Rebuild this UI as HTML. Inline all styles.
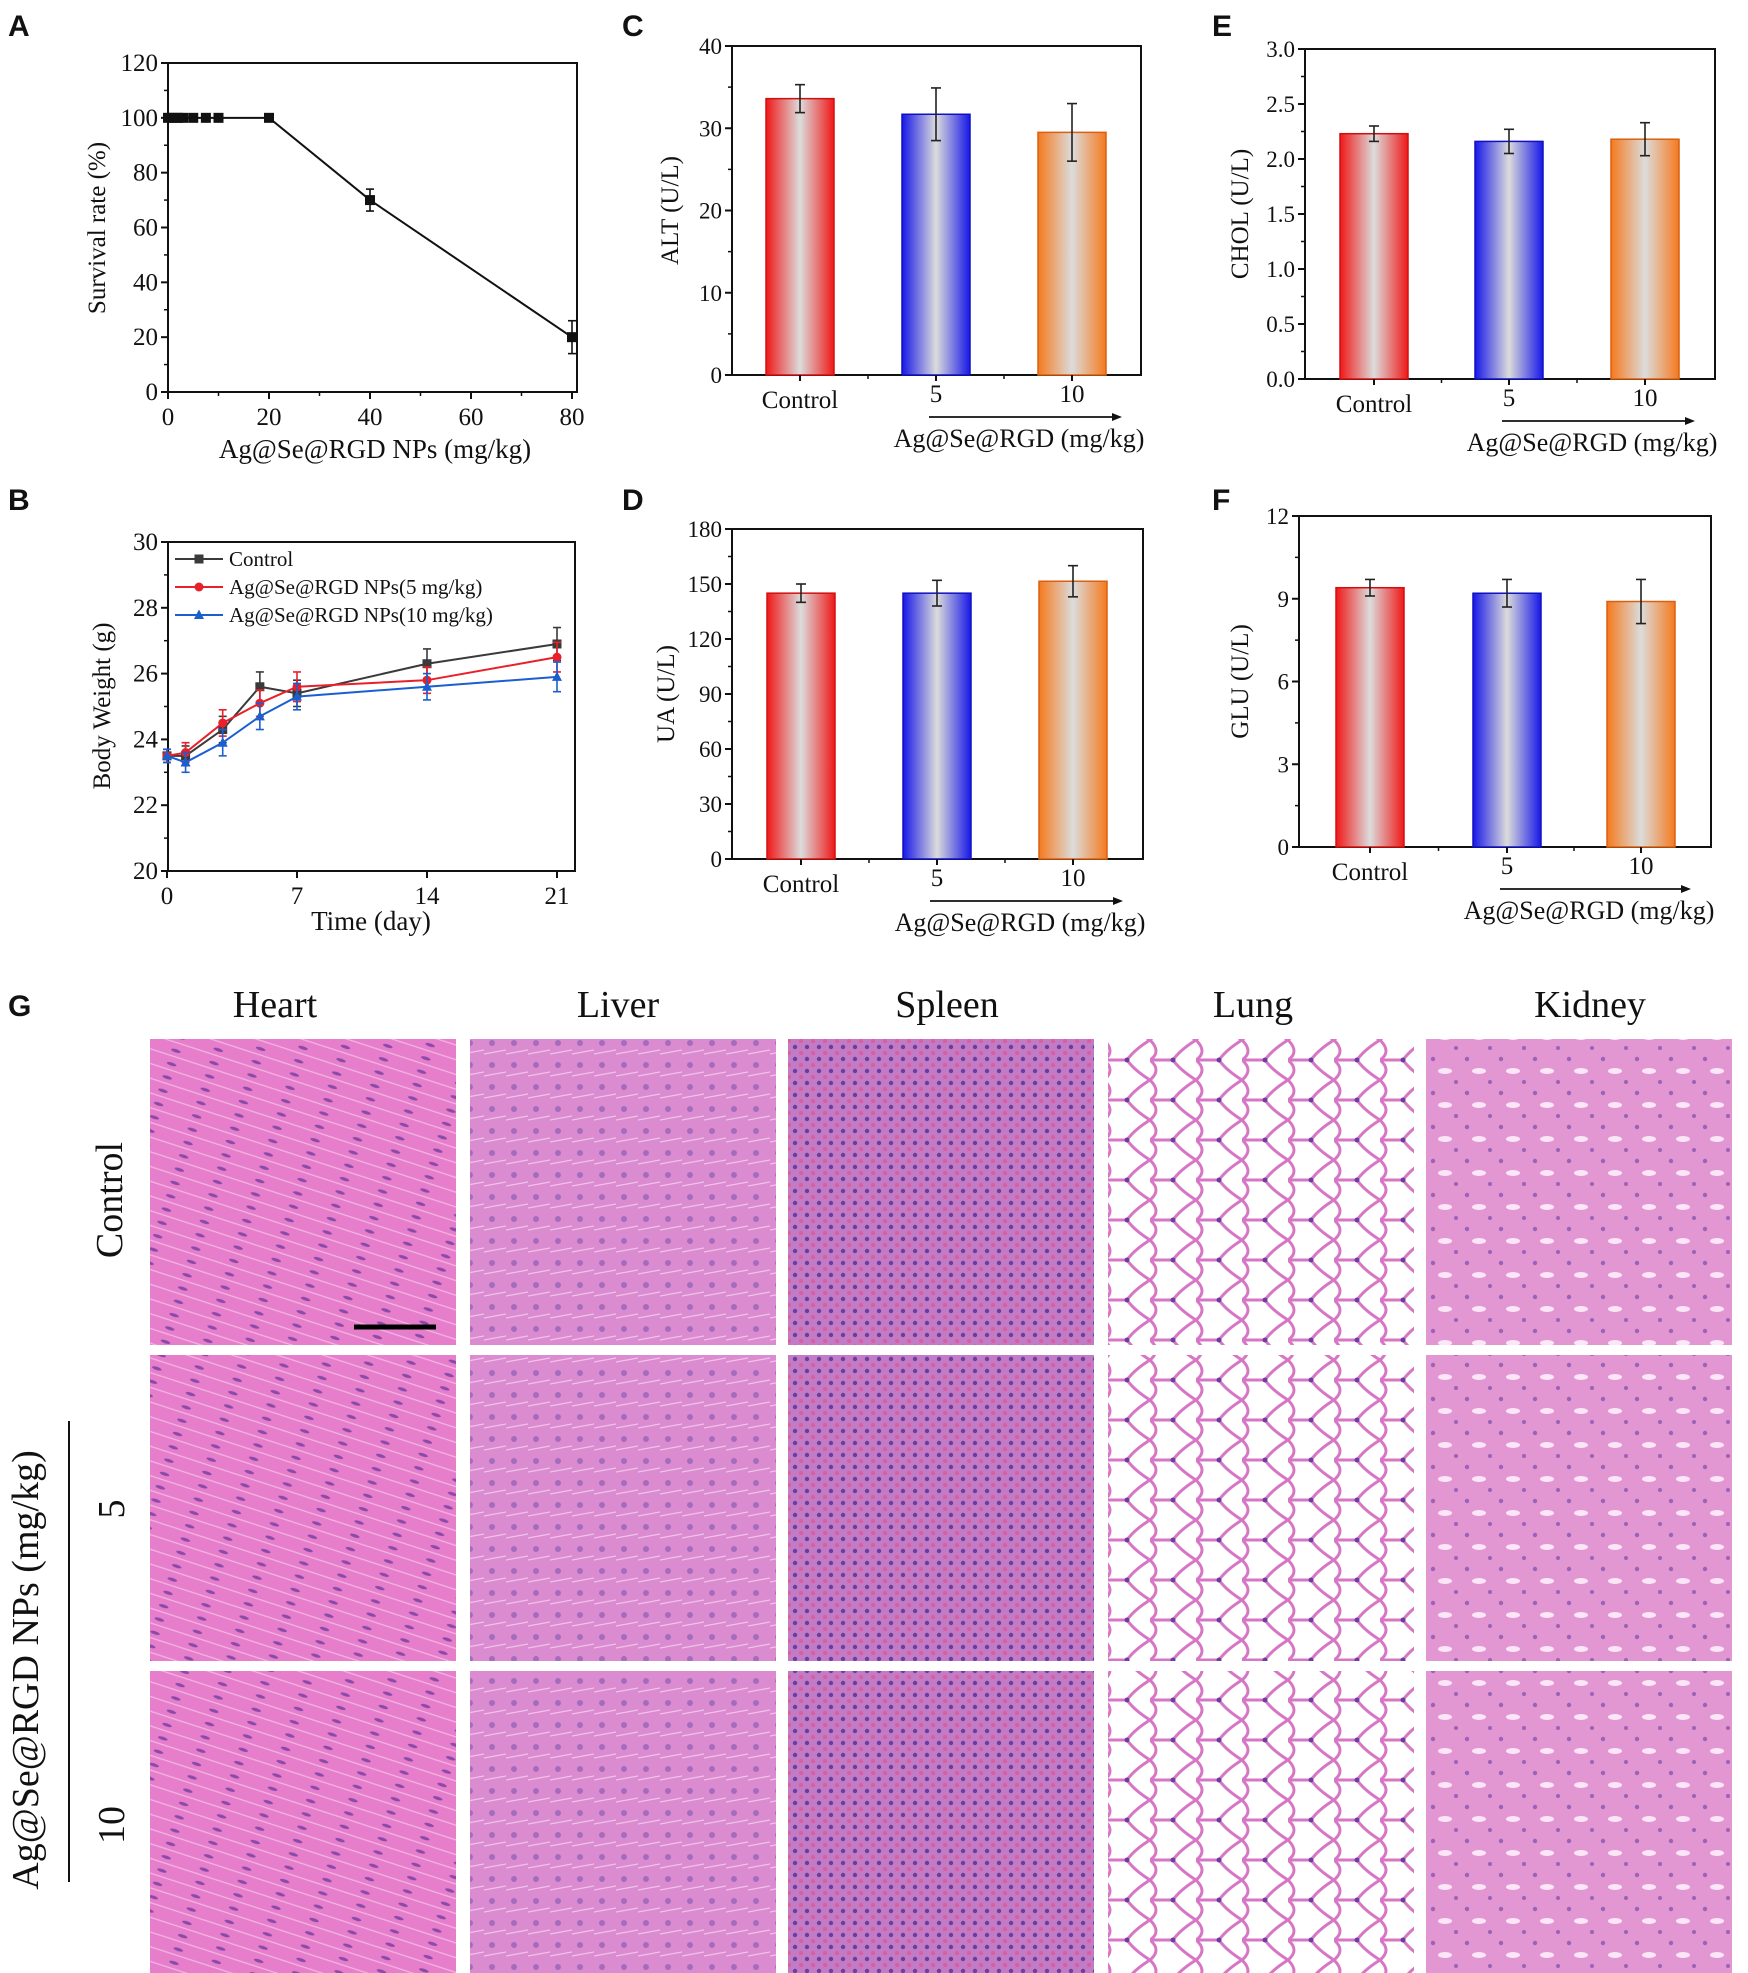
<!DOCTYPE html>
<html><head><meta charset="utf-8">
<style>
html,body{margin:0;padding:0;background:#fff}
svg{display:block}
text{font-family:"Liberation Serif",serif;fill:#111}
.pl{font-family:"Liberation Sans",sans-serif;font-weight:bold;font-size:30px}
</style></head>
<body>
<svg id="fig" width="1748" height="1973" viewBox="0 0 1748 1973" xmlns="http://www.w3.org/2000/svg">
<defs>
<linearGradient id="gRed" x1="0" x2="1"><stop offset="0" stop-color="#f01818"/><stop offset="0.5" stop-color="#dcdcdc"/><stop offset="1" stop-color="#f01818"/></linearGradient>
<linearGradient id="gBlue" x1="0" x2="1"><stop offset="0" stop-color="#1818e8"/><stop offset="0.5" stop-color="#dcdcdc"/><stop offset="1" stop-color="#1818e8"/></linearGradient>
<linearGradient id="gOrange" x1="0" x2="1"><stop offset="0" stop-color="#f57a1e"/><stop offset="0.5" stop-color="#dcdcdc"/><stop offset="1" stop-color="#f57a1e"/></linearGradient>
<pattern id="pHeart" width="40" height="14" patternUnits="userSpaceOnUse" patternTransform="rotate(18)"><rect width="40" height="14" fill="#e67ecb"/><ellipse cx="12" cy="7" rx="5" ry="1.6" fill="#8a4aa8"/><line x1="0" y1="13" x2="40" y2="13" stroke="#f3b6e4" stroke-width="1.2"/></pattern>
<pattern id="pLiver" width="22" height="22" patternUnits="userSpaceOnUse"><rect width="22" height="22" fill="#db8cd0"/><circle cx="8" cy="9" r="3" fill="#a56bbd"/><path d="M0 20 L22 16" stroke="#f0c2ea" stroke-width="1.2"/></pattern>
<pattern id="pSpleen" width="12" height="12" patternUnits="userSpaceOnUse"><rect width="12" height="12" fill="#c17cc5"/><circle cx="3" cy="3" r="2.2" fill="#6e3c9c"/><circle cx="9" cy="9" r="2" fill="#e05a9c"/></pattern>
<pattern id="pLung" width="46" height="40" patternUnits="userSpaceOnUse"><rect width="46" height="40" fill="#fff"/><path d="M0 0 Q12 12 0 20 Q12 30 0 40 M46 0 Q30 10 23 20 Q30 30 46 40 M0 20 L23 20" fill="none" stroke="#d676c4" stroke-width="3"/><circle cx="23" cy="20" r="2.5" fill="#6a3ea0"/></pattern>
<pattern id="pKidney" width="34" height="34" patternUnits="userSpaceOnUse"><rect width="34" height="34" fill="#e296d2"/><ellipse cx="17" cy="17" rx="7" ry="3" fill="#fbe6f7"/><circle cx="5" cy="5" r="2.2" fill="#9a62b8"/><circle cx="28" cy="28" r="2" fill="#9a62b8"/></pattern>
</defs>

<g>
<text class="pl" x="8" y="36">A</text>
<text class="pl" x="8" y="510">B</text>
<text class="pl" x="622" y="36">C</text>
<text class="pl" x="622" y="510">D</text>
<text class="pl" x="1212" y="36">E</text>
<text class="pl" x="1212" y="510">F</text>
<text class="pl" x="8" y="1016">G</text>
</g>
<g id="charts"></g>

<g font-size="36">
<text x="275" y="1017" text-anchor="middle" font-size="38">Heart</text>
<text x="618" y="1017" text-anchor="middle" font-size="38">Liver</text>
<text x="947" y="1017" text-anchor="middle" font-size="38">Spleen</text>
<text x="1253" y="1017" text-anchor="middle" font-size="38">Lung</text>
<text x="1590" y="1017" text-anchor="middle" font-size="38">Kidney</text>
<text transform="translate(122,1200) rotate(-90)" text-anchor="middle" font-size="38">Control</text>
<text transform="translate(124,1509) rotate(-90)" text-anchor="middle" font-size="38">5</text>
<text transform="translate(124,1825) rotate(-90)" text-anchor="middle" font-size="38">10</text>
<text transform="translate(38,1670) rotate(-90)" text-anchor="middle" font-size="38">Ag@Se@RGD NPs (mg/kg)</text>
<line x1="69" y1="1421" x2="69" y2="1882" stroke="#111" stroke-width="2"/>
<g id="tiles"></g>
<line x1="354" y1="1327" x2="436" y2="1327" stroke="#000" stroke-width="5"/>
</g>
</svg>

<script>
const NS='http://www.w3.org/2000/svg';
const root=document.getElementById('charts');
function mk(tag,attrs,parent,txt){const e=document.createElementNS(NS,tag);for(const k in attrs)e.setAttribute(k,attrs[k]);if(txt!==undefined)e.textContent=txt;(parent||root).appendChild(e);return e;}

// ---- Panel A data ----
const aDose=[0,1,2,3,5,7.5,10,20,40,80];
const aSurv=[100,100,100,100,100,100,100,100,70,20];
const aErr=[0,0,0,0,0,0,0,1,4,6];
const aXTicks=[0,20,40,60,80];
const aYTicks=[0,20,40,60,80,100,120];
// ---- Panel B data ----
const bDays=[0,1,3,5,7,14,21];
const bControl=[23.5,23.5,24.3,25.6,25.4,26.3,26.9];
const bDose5=[23.5,23.6,24.5,25.1,25.6,25.8,26.5];
const bDose10=[23.5,23.3,23.9,24.7,25.3,25.6,25.9];
const bErrControl=[0.2,0.3,0.4,0.45,0.4,0.45,0.5];
const bErrDose5=[0.2,0.3,0.4,0.4,0.45,0.4,0.45];
const bErrDose10=[0.2,0.3,0.4,0.4,0.4,0.4,0.45];
const bXTicks=[0,7,14,21];
const bYTicks=[20,22,24,26,28,30];
// ---- Bar panels ----
const barCats=['Control','5','10'];
const altVals=[33.6,31.7,29.5], altErr=[1.7,3.2,3.5], altTicks=[0,10,20,30,40];
const uaVals=[145,145,151.5], uaErr=[5,7,8.5], uaTicks=[0,30,60,90,120,150,180];
const cholVals=[2.23,2.16,2.18], cholErr=[0.07,0.11,0.15], cholTicks=[0,0.5,1,1.5,2,2.5,3];
const gluVals=[9.4,9.2,8.9], gluErr=[0.3,0.5,0.8], gluTicks=[0,3,6,9,12];

function frame(g,L,R,T,B){
  const r=mk('rect',{x:L,y:T,width:R-L,height:B-T,fill:'none',stroke:'#111','stroke-width':2},g);
  
  
}
function yAxis(g,ticks,sy,L,fmt,fs){
  ticks.forEach((t,i)=>{
    mk('line',{x1:L-7,x2:L,y1:sy(t),y2:sy(t),stroke:'#111','stroke-width':2},g);
    if(i<ticks.length-1)mk('line',{x1:L-4,x2:L,y1:(sy(t)+sy(ticks[i+1]))/2,y2:(sy(t)+sy(ticks[i+1]))/2,stroke:'#111','stroke-width':1.5},g);
    const tx=mk('text',{x:L-10,y:sy(t)+8,'text-anchor':'end','font-size':fs},g,fmt(t));
    
    
  });
}
function err(g,x,y1,y2,w,c){
  mk('line',{x1:x,x2:x,y1:y1,y2:y2,stroke:c,'stroke-width':1.6},g);
  mk('line',{x1:x-w,x2:x+w,y1:y1,y2:y1,stroke:c,'stroke-width':1.6},g);
  mk('line',{x1:x-w,x2:x+w,y1:y2,y2:y2,stroke:c,'stroke-width':1.6},g);
}

// Panel A
(function(){
  const g=mk('g',{});
  
  
  const L=168,R=577,T=63,B=392;
  const sx=v=>168+v/80*(572-168), sy=v=>B-v/120*(B-T);
  frame(g,L,R,T,B);
  yAxis(g,aYTicks,sy,L,v=>v,25);
  aXTicks.forEach(t=>{mk('line',{x1:sx(t),x2:sx(t),y1:B,y2:B+7,stroke:'#111','stroke-width':2},g);
    const tx=mk('text',{x:sx(t),y:B+33,'text-anchor':'middle','font-size':25},g,t);
    });
  [10,30,50,70].forEach(t=>mk('line',{x1:sx(t),x2:sx(t),y1:B,y2:B+4,stroke:'#111','stroke-width':1.5},g));
  const ln=mk('polyline',{points:aDose.map((d,i)=>sx(d)+','+sy(aSurv[i])).join(' '),fill:'none',stroke:'#111','stroke-width':2},g);
  
  aDose.forEach((d,i)=>{
    if(aErr[i])err(g,sx(d),sy(aSurv[i]+aErr[i]),sy(aSurv[i]-aErr[i]),4,'#111');
    const p=mk('rect',{x:sx(d)-5,y:sy(aSurv[i])-5,width:10,height:10,fill:'#111'},g);
    
  });
  const yt=mk('text',{transform:'translate(105,228) rotate(-90)','text-anchor':'middle','font-size':25},g,'Survival rate (%)');
  
  const xt=mk('text',{x:375,y:458,'text-anchor':'middle','font-size':27},g,'Ag@Se@RGD NPs (mg/kg)');
  
})();

// Panel B
(function(){
  const g=mk('g',{});
  
  
  const L=168,R=575,T=542,B=871;
  const sx=v=>167+v/21*(557-167), sy=v=>B-(v-20)/10*(B-T);
  frame(g,L,R,T,B);
  yAxis(g,bYTicks,sy,L,v=>v,25);
  bXTicks.forEach(t=>{mk('line',{x1:sx(t),x2:sx(t),y1:B,y2:B+7,stroke:'#111','stroke-width':2},g);
    const tx=mk('text',{x:sx(t),y:B+33,'text-anchor':'middle','font-size':25},g,t);
    });
  const series=[[bControl,bErrControl,'#3a3a3a','sq','Control'],[bDose5,bErrDose5,'#e8202a','ci','Ag@Se@RGD NPs(5 mg/kg)'],[bDose10,bErrDose10,'#1a5fd0','tr','Ag@Se@RGD NPs(10 mg/kg)']];
  function marker(x,y,s,c){
    let m;
    if(s==='sq')m=mk('rect',{x:x-4.5,y:y-4.5,width:9,height:9,fill:c},g);
    else if(s==='ci')m=mk('circle',{cx:x,cy:y,r:4.5,fill:c},g);
    else m=mk('polygon',{points:`${x},${y-5.5} ${x-5},${y+4} ${x+5},${y+4}`,fill:c},g);
    return m;
  }
  series.forEach((s,k)=>{
    const [vals,errs,c,shape,name]=s;
    const pl=mk('polyline',{points:bDays.map((d,i)=>sx(d)+','+sy(vals[i])).join(' '),fill:'none',stroke:c,'stroke-width':2},g);
    
    bDays.forEach((d,i)=>{err(g,sx(d),sy(vals[i]+errs[i]),sy(vals[i]-errs[i]),4,c);
      const m=marker(sx(d),sy(vals[i]),shape,c);
      });
    const ly=559+k*28;
    mk('line',{x1:175,x2:223,y1:ly,y2:ly,stroke:c,'stroke-width':2},g);
    marker(199,ly,shape,c);
    const lt=mk('text',{x:229,y:ly+7,'font-size':21},g,name);
    
  });
  const yt=mk('text',{transform:'translate(110,706) rotate(-90)','text-anchor':'middle','font-size':25},g,'Body Weight (g)');
  
  const xt=mk('text',{x:371,y:930,'text-anchor':'middle','font-size':27},g,'Time (day)');
  
})();

// Bar panels
function barChart(cfg){
  const g=mk('g',{});
  
  
  const {L,R,T,B,vals,errs,ticks,centers,title,fmt}=cfg;
  const max=ticks[ticks.length-1];
  const sy=v=>B-v/max*(B-T);
  frame(g,L,R,T,B);
  yAxis(g,ticks,sy,L,fmt,23);
  const grads=['url(#gRed)','url(#gBlue)','url(#gOrange)'], edges=['#d01010','#1010c0','#d86010'];
  vals.forEach((v,i)=>{
    const cx=centers[i];
    const b=mk('rect',{x:cx-34,y:sy(v),width:68,height:B-sy(v),fill:grads[i],stroke:edges[i],'stroke-width':1.5},g);
    
    
    err(g,cx,sy(v+errs[i]),sy(v-errs[i]),5,'#222');
    mk('line',{x1:cx,x2:cx,y1:B,y2:B+6,stroke:'#111','stroke-width':2},g);
    const lt=mk('text',{x:cx,y:i===0?B+33:B+27,'text-anchor':'middle','font-size':25},g,barCats[i]);
    
  });
  [(centers[0]+centers[1])/2,(centers[1]+centers[2])/2].forEach(x=>mk('line',{x1:x,x2:x,y1:B,y2:B+4,stroke:'#111','stroke-width':1.5},g));
  const ay=B+42;
  const ar=mk('line',{x1:centers[1]-7,x2:centers[2]+44,y1:ay,y2:ay,stroke:'#111','stroke-width':1.8},g);
  
  mk('polygon',{points:`${centers[2]+50},${ay} ${centers[2]+40},${ay-4} ${centers[2]+40},${ay+4}`,fill:'#111'},g);
  const dt=mk('text',{x:(centers[1]+centers[2])/2+15,y:ay+30,'text-anchor':'middle','font-size':26},g,'Ag@Se@RGD (mg/kg)');
  
  const yt=mk('text',{transform:`translate(${cfg.tx},${(T+B)/2}) rotate(-90)`,'text-anchor':'middle','font-size':25},g,title);
  
}
barChart({name:'alt-chart',L:732,R:1141,T:46,B:375,vals:altVals,errs:altErr,ticks:altTicks,centers:[800,936,1072],title:'ALT (U/L)',tx:678,fmt:v=>v});
barChart({name:'ua-chart',L:732,R:1143,T:529,B:859,vals:uaVals,errs:uaErr,ticks:uaTicks,centers:[801,937,1073],title:'UA (U/L)',tx:674,fmt:v=>v});
barChart({name:'chol-chart',L:1305,R:1715,T:49,B:379,vals:cholVals,errs:cholErr,ticks:cholTicks,centers:[1374,1509,1645],title:'CHOL (U/L)',tx:1248,fmt:v=>v.toFixed(1)});
barChart({name:'glu-chart',L:1299,R:1711,T:516,B:847,vals:gluVals,errs:gluErr,ticks:gluTicks,centers:[1370,1507,1641],title:'GLU (U/L)',tx:1248,fmt:v=>v});

// histology tiles
const tiles=document.getElementById('tiles');
const colX=[150,470,788,1108,1426], rowY=[1039,1355,1671];
const tissues=['heart','liver','spleen','lung','kidney'], pats=['pHeart','pLiver','pSpleen','pLung','pKidney'];
const rows=['control','dose5','dose10'];
rowY.forEach((y,r)=>colX.forEach((x,c)=>{
  const t=mk('rect',{x:x,y:y,width:306,height:r===2?302:306,fill:'url(#'+pats[c]+')'},tiles);
  
  
}));
</script>
</body></html>
